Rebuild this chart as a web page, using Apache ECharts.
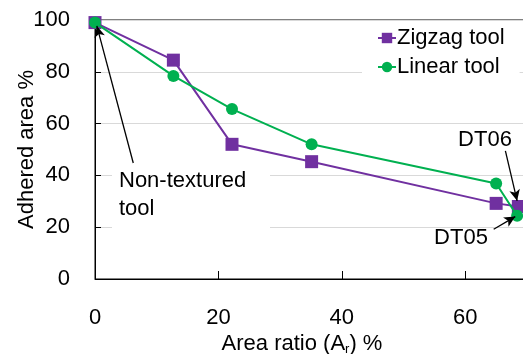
<!DOCTYPE html>
<html>
<head>
<meta charset="utf-8">
<script src="https://cdn.jsdelivr.net/npm/echarts@6/dist/echarts.min.js"></script>
<style>
  html, body { margin: 0; padding: 0; background: #fff; }
  #chart { width: 523px; height: 354px; }
</style>
</head>
<body>
<div id="chart"></div>
<script>
// data
var zigX = [0, 12.7, 22.2, 35.1, 65.0, 68.6];
var zigY = [99, 84.5, 52, 45.3, 29.2, 28];
var linX = [0, 12.7, 22.2, 35.1, 65.0, 68.4];
var linY = [99, 78.4, 65.6, 52, 36.9, 24.4];

// arrows: [from, to] in data coords
var arrowNonTex = [[6.2, 44.8], [0.3, 97.7]];
var arrowDT06 = [[66.5, 49.5], [68.4, 30.2]];
var arrowDT05 = [[64.6, 19.2], [68.1, 24.1]];

var font = 'Liberation Sans, Arial, sans-serif';

function pairs(xs, ys) {
  return xs.map(function (x, i) { return [x, ys[i]]; });
}

(function () {
  var myChart = echarts.init(document.getElementById('chart'));
  var option = {
    animation: false,
    textStyle: { fontFamily: font },
    grid: {
      left: 95, top: 20, bottom: 75, right: -4,
      outerBoundsMode: 'none',
      containLabel: false,
      show: true, borderColor: '#000', borderWidth: 1
    },
    legend: {
      orient: 'vertical',
      left: 362, top: 22,
      padding: [4, 15, 4, 15],
      backgroundColor: '#fff',
      itemWidth: 18, itemHeight: 13, itemGap: 5,
      textStyle: { fontSize: 22, color: '#000', fontFamily: font, lineHeight: 24, padding: [0, 0, 0, -4] },
      data: ['Zigzag tool', 'Linear tool']
    },
    xAxis: {
      type: 'value',
      min: 0, max: 70, interval: 20,
      name: 'Area ratio (A{sub|r}) %',
      nameLocation: 'middle',
      nameGap: 52,
      nameMoveOverlap: false,
      nameTextStyle: {
        fontSize: 22, color: '#000', fontFamily: font, padding: [0, 18, 0, 0],
        rich: { sub: { fontSize: 13, padding: [12, 0, 0, 0], color: '#000', fontFamily: font } }
      },
      axisLine: { show: true, lineStyle: { color: '#000', width: 1 } },
      axisTick: { show: true, inside: true, length: 8, lineStyle: { color: '#000' } },
      axisLabel: { fontSize: 22, color: '#000', margin: 28, showMaxLabel: false },
      splitLine: { show: false }
    },
    yAxis: {
      type: 'value',
      min: 0, max: 100, interval: 20,
      name: 'Adhered area %',
      nameLocation: 'middle',
      nameGap: 57,
      nameMoveOverlap: false,
      nameTextStyle: { fontSize: 22, color: '#000', fontFamily: font },
      axisLine: { show: true, lineStyle: { color: '#000', width: 1 } },
      axisTick: { show: true, inside: true, length: 6, lineStyle: { color: '#000' } },
      axisLabel: { fontSize: 22, color: '#000', margin: 25 },
      splitLine: { show: true, lineStyle: { color: '#d9d9d9', width: 1 } }
    },
    graphic: [
      { type: 'rect', shape: { x: 112, y: 165, width: 158, height: 64 }, style: { fill: '#fff' }, z: 5 },
      { type: 'text', left: 119, top: 167, z: 6,
        style: { text: 'Non-textured\ntool', fontSize: 22, lineHeight: 28, fill: '#000', fontFamily: font } },
      { type: 'text', x: 485, y: 140, z: 6,
        style: { text: 'DT06', fontSize: 22, fill: '#000', fontFamily: font, align: 'center', verticalAlign: 'middle' } },
      { type: 'text', x: 461, y: 238, z: 6,
        style: { text: 'DT05', fontSize: 22, fill: '#000', fontFamily: font, align: 'center', verticalAlign: 'middle' } }
    ],
    series: [
      {
        name: 'Zigzag tool',
        type: 'line',
        data: pairs(zigX, zigY),
        symbol: 'rect',
        symbolSize: 13,
        lineStyle: { color: '#7030A0', width: 2 },
        itemStyle: { color: '#7030A0' },
        z: 7
      },
      {
        name: 'Linear tool',
        type: 'line',
        data: pairs(linX, linY),
        symbol: 'circle',
        symbolSize: 12,
        lineStyle: { color: '#00B050', width: 2 },
        itemStyle: { color: '#00B050' },
        z: 8,
        markLine: {
          silent: true,
          symbol: ['none', 'arrow'],
          symbolSize: [8, 11],
          label: { show: false },
          lineStyle: { color: '#000', width: 1.3, type: 'solid' },
          z: 9,
          data: [arrowNonTex, arrowDT06, arrowDT05].map(function (a) {
            return [{ coord: a[0] }, { coord: a[1] }];
          })
        }
      }
    ]
  };
  myChart.setOption(option);
  window.addEventListener('resize', function () {
    myChart.resize();
  });
})();
</script>
</body>
</html>
